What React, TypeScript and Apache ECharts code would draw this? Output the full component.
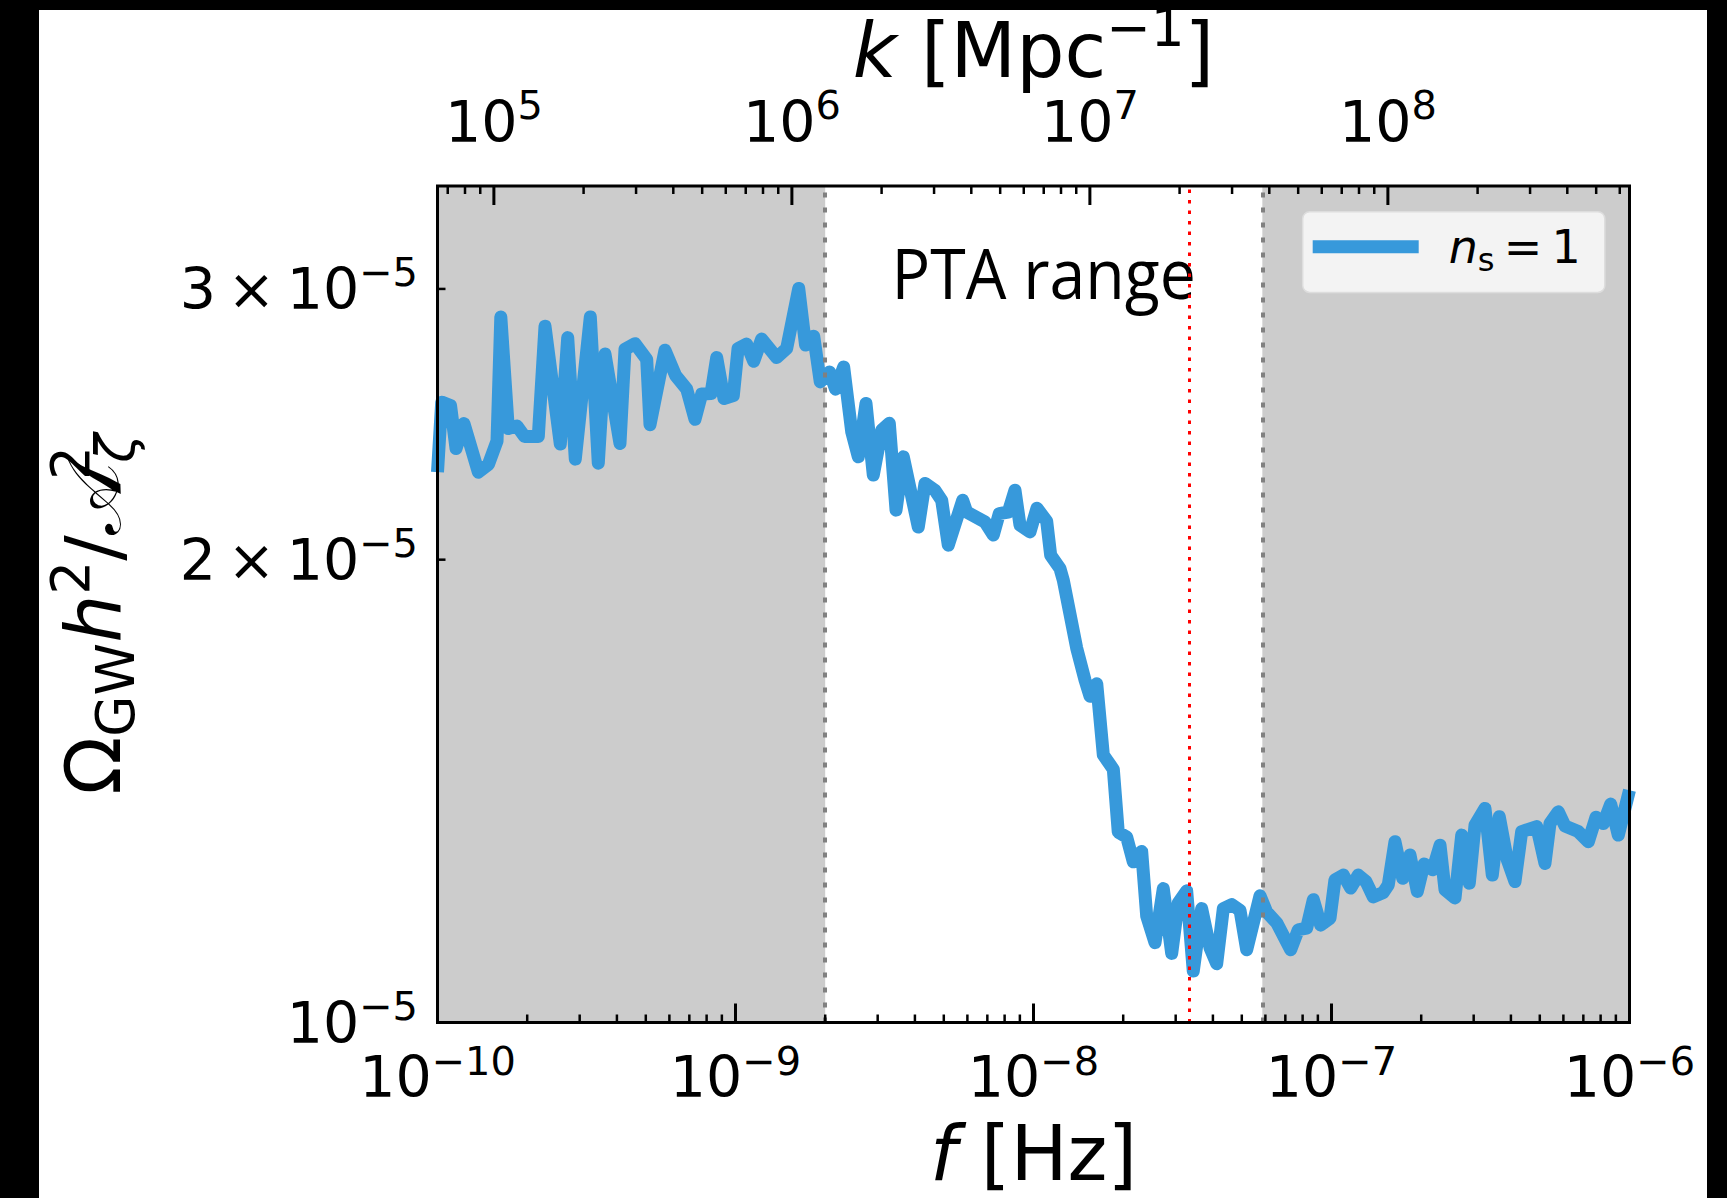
import React, { useEffect, useRef } from "react";
import * as echarts from "echarts";

const W = 1727;
const H = 1198;

// Frequency of each sample of the spectrum [Hz]
const freqHz = [
  1.0e-10, 1.033e-10, 1.106e-10, 1.154e-10, 1.227e-10, 1.371e-10, 1.483e-10, 1.584e-10, 1.631e-10, 1.728e-10,
  1.848e-10, 1.959e-10, 2.179e-10, 2.295e-10, 2.583e-10, 2.735e-10, 2.9e-10, 3.257e-10, 3.464e-10, 3.648e-10,
  4.096e-10, 4.258e-10, 4.6e-10, 5.035e-10, 5.165e-10, 5.799e-10, 6.291e-10, 6.859e-10, 7.313e-10, 7.701e-10,
  8.277e-10, 8.649e-10, 9.149e-10, 9.832e-10, 1.02e-9, 1.09e-9, 1.151e-9, 1.224e-9, 1.375e-9, 1.485e-9,
  1.63e-9, 1.718e-9, 1.83e-9, 1.925e-9, 2.068e-9, 2.166e-9, 2.307e-9, 2.455e-9, 2.583e-9, 2.741e-9,
  2.9e-9, 3.095e-9, 3.282e-9, 3.457e-9, 3.657e-9, 4.106e-9, 4.324e-9, 4.671e-9, 4.919e-9, 5.176e-9,
  5.787e-9, 5.969e-9, 6.875e-9, 7.33e-9, 7.677e-9, 8.23e-9, 8.667e-9, 9.009e-9, 9.733e-9, 1.027e-8,
  1.107e-8, 1.142e-8, 1.227e-8, 1.259e-8, 1.396e-8, 1.489e-8, 1.548e-8, 1.63e-8, 1.715e-8, 1.853e-8,
  1.925e-8, 2.055e-8, 2.162e-8, 2.307e-8, 2.398e-8, 2.557e-8, 2.726e-8, 2.909e-8, 3.061e-8, 3.266e-8,
  3.437e-8, 3.667e-8, 3.912e-8, 4.119e-8, 4.335e-8, 4.626e-8, 4.932e-8, 5.194e-8, 5.755e-8, 6.06e-8,
  6.548e-8, 7.296e-8, 7.737e-8, 8.255e-8, 8.688e-8, 9.199e-8, 9.885e-8, 1.027e-7, 1.096e-7, 1.16e-7,
  1.23e-7, 1.305e-7, 1.381e-7, 1.492e-7, 1.551e-7, 1.633e-7, 1.734e-7, 1.834e-7, 1.941e-7, 2.044e-7,
  2.186e-7, 2.313e-7, 2.404e-7, 2.597e-7, 2.735e-7, 2.9e-7, 3.031e-7, 3.274e-7, 3.464e-7, 3.656e-7,
  3.89e-7, 4.128e-7, 4.347e-7, 4.882e-7, 5.204e-7, 5.409e-7, 5.768e-7, 6.075e-7, 6.731e-7, 7.274e-7,
  7.719e-7, 8.167e-7, 8.648e-7, 9.171e-7, 1.0e-6,
];

// Omega_GW h^2 / A_zeta^2 at each frequency, in units of 1e-5
const omegaE5 = [
  2.28, 2.532, 2.519, 2.362, 2.452, 2.28, 2.307, 2.389, 2.877, 2.434,
  2.443, 2.405, 2.405, 2.837, 2.378, 2.789, 2.325, 2.877, 2.311, 2.721,
  2.38, 2.741, 2.764, 2.7, 2.448, 2.737, 2.636, 2.582, 2.468, 2.563,
  2.565, 2.707, 2.546, 2.557, 2.744, 2.762, 2.692, 2.783, 2.707, 2.744,
  3.002, 2.758, 2.795, 2.61, 2.649, 2.582, 2.669, 2.422, 2.333, 2.527,
  2.27, 2.428, 2.453, 2.154, 2.333, 2.1, 2.242, 2.219, 2.186, 2.044,
  2.186, 2.148, 2.116, 2.075, 2.143, 2.148, 2.219, 2.106, 2.085, 2.16,
  2.119, 2.013, 1.974, 1.939, 1.752, 1.67, 1.63, 1.661, 1.493, 1.461,
  1.33, 1.32, 1.272, 1.292, 1.173, 1.127, 1.222, 1.109, 1.196, 1.218,
  1.08, 1.186, 1.118, 1.092, 1.186, 1.193, 1.183, 1.115, 1.209, 1.18,
  1.161, 1.115, 1.149, 1.152, 1.202, 1.157, 1.169, 1.238, 1.247, 1.223,
  1.247, 1.235, 1.207, 1.215, 1.229, 1.311, 1.241, 1.285, 1.217, 1.268,
  1.257, 1.304, 1.22, 1.205, 1.324, 1.232, 1.344, 1.378, 1.247, 1.361,
  1.276, 1.235, 1.331, 1.341, 1.269, 1.347, 1.371, 1.342, 1.331, 1.311,
  1.36, 1.347, 1.387, 1.324, 1.416,
];
const OMEGA_UNIT = 1e-5;

const F_MIN = 1e-10;
const F_MAX = 1e-6;
const Y_MIN = 1e-5;
const Y_MAX = 3.5e-5;
// f = c k / (2 pi) with k in Mpc^-1
const HZ_PER_INV_MPC = 1.546e-15;
// Shaded regions lie outside the pulsar-timing band
const PTA_BAND_HZ = [2e-9, 5.86e-8];
const MARKER_HZ = 3.33e-8;
const X_DECADES = [-10, -9, -8, -7];
const K_DECADES = [4, 5, 6, 7, 8];
const Y_MINOR_VALUES = [2e-5, 3e-5];
const Y_MINOR_MANTISSAS = ["2", "3"];
const SERIES_LABEL = "n_s = 1";

const LINE_BLUE = "#3799db";
const SHADE = "#cccccc";
const MATH_FONT = "'DejaVu Sans', sans-serif";
const TEXT_FONT = "'Open Sans', 'Noto Sans', sans-serif";

// Rich-text styles imitating mathtext: base line box is taller than the
// script boxes so 'top' / 'bottom' tokens land at sup / sub offsets.
function mathRich(F: number, colorKey: "color" | "fill") {
  const base: any = { fontSize: F, fontFamily: MATH_FONT, lineHeight: 1.292 * F, verticalAlign: "middle" };
  base[colorKey] = "#000";
  const s = 0.7 * F;
  const sup: any = { fontSize: s, fontFamily: MATH_FONT, lineHeight: s, verticalAlign: "top" };
  sup[colorKey] = "#000";
  const sub: any = { fontSize: s, fontFamily: MATH_FONT, lineHeight: 0.794 * F, verticalAlign: "bottom" };
  sub[colorKey] = "#000";
  return {
    r: base,
    i: { ...base, fontStyle: "italic" },
    t: { ...base, padding: [0, 0.2 * F, 0, 0.2 * F] },
    sup,
    sup0: { ...sup, width: 0.5 },
    sub,
    subi: { ...sub, fontStyle: "italic" },
    cal: { ...base, fontFamily: "'DejaVu Serif', 'DejaVu Sans', serif" },
  };
}

function powLabel(v: number) {
  const e = Math.round(Math.log10(v));
  return `{r|10}{sup|${e < 0 ? "\u2212" : ""}${Math.abs(e)}}`;
}

// Tick marks: [x value, y value, side (0 bottom, 1 top, 2 left, 3 frame), major]
function buildTicks() {
  const out: number[][] = [];
  for (const e of X_DECADES) {
    for (let m = 1; m <= 9; m++) out.push([m * Math.pow(10, e), Y_MIN, 0, m === 1 ? 1 : 0]);
  }
  out.push([F_MAX, Y_MIN, 0, 1]);
  for (const e of K_DECADES) {
    for (let m = 1; m <= 9; m++) {
      const f = m * Math.pow(10, e) * HZ_PER_INV_MPC;
      if (f > F_MIN && f < F_MAX) out.push([f, Y_MAX, 1, m === 1 ? 1 : 0]);
    }
  }
  for (const v of Y_MINOR_VALUES) out.push([F_MIN, v, 2, 0]);
  out.push([F_MIN, Y_MIN, 3, 0]);
  return out;
}

function verticalMark(x: number, color: string, width: number, dash: number[]) {
  return [
    { coord: [x, Y_MIN], lineStyle: { color, width, type: dash } },
    { coord: [x, Y_MAX] },
  ];
}

export default function App() {
  const ref = useRef<HTMLDivElement>(null);

  useEffect(() => {
    if (!ref.current) return;
    const chart = echarts.init(ref.current, undefined, { renderer: "svg" });

    const tickRich = mathRich(57, "color");
    const nameRich = mathRich(76, "color");
    const legendRich = mathRich(46, "color");
    const points = freqHz.map((f, i) => [f, omegaE5[i] * OMEGA_UNIT]);

    const option: any = {
      animation: false,
      backgroundColor: "transparent",
      grid: {
        left: 437.5,
        top: 186,
        width: 1192,
        height: 836.5,
        containLabel: false,
        outerBoundsMode: "none",
      },
      legend: {
        data: [SERIES_LABEL],
        left: 1302.7,
        top: 211.7,
        orient: "horizontal",
        padding: [12, 24, 16, 10],
        itemWidth: 106,
        itemHeight: 13,
        icon: "rect",
        selectedMode: false,
        backgroundColor: "#f3f3f3",
        borderColor: "#dddddd",
        borderWidth: 1.5,
        borderRadius: 7,
        formatter: () => "{i|n}{sub|s}{t|=}{r|1}",
        textStyle: {
          rich: {
            ...legendRich,
            i: { ...legendRich.i, padding: [0, 0, 0, 25] },
          },
        },
      },
      xAxis: [
        {
          type: "log",
          logBase: 10,
          min: F_MIN,
          max: F_MAX,
          position: "bottom",
          axisLine: { show: false },
          axisTick: { show: false },
          splitLine: { show: false },
          axisLabel: {
            margin: 18,
            showMinLabel: true,
            showMaxLabel: true,
            formatter: (v: number) => powLabel(v),
            rich: tickRich,
          },
          name: "{i|f}{r| [Hz]}",
          nameLocation: "middle",
          nameGap: 82,
          nameMoveOverlap: false,
          nameTextStyle: { rich: nameRich },
        },
        {
          type: "log",
          logBase: 10,
          min: F_MIN / HZ_PER_INV_MPC,
          max: F_MAX / HZ_PER_INV_MPC,
          position: "top",
          axisLine: { show: false },
          axisTick: { show: false },
          splitLine: { show: false },
          axisLabel: {
            margin: 27,
            showMinLabel: false,
            showMaxLabel: false,
            formatter: (v: number) => powLabel(v),
            rich: tickRich,
          },
          name: "{i|k}{r| [Mpc}{sup|\u22121}{r|]}",
          nameLocation: "middle",
          nameGap: 86,
          nameMoveOverlap: false,
          nameTextStyle: { rich: nameRich },
        },
      ],
      yAxis: {
        type: "log",
        logBase: 10,
        min: Y_MIN,
        max: Y_MAX,
        axisLine: { show: false },
        axisTick: { show: false },
        splitLine: { show: false },
        axisLabel: {
          margin: 19.5,
          showMinLabel: true,
          showMaxLabel: false,
          formatter: (v: number) => (Math.abs(Math.log10(v / Y_MIN)) < 1e-6 ? powLabel(v) : ""),
          rich: tickRich,
        },
        name: "{r|\u03A9}{sub|GW}{i|h}{sup|2}{r|/}{cal|\uD835\uDC9C}{sup0|2}{subi|\u03B6}",
        nameLocation: "middle",
        nameRotate: 90,
        nameGap: 295,
        nameMoveOverlap: false,
        nameTextStyle: { rich: nameRich, padding: [0, 20, 0, 0] },
      },
      series: [
        {
          name: "bands",
          type: "line",
          data: points,
          z: 1,
          silent: true,
          showSymbol: false,
          symbol: "none",
          lineStyle: { opacity: 0, width: 0 },
          markArea: {
            silent: true,
            itemStyle: { color: SHADE },
            label: { show: false },
            data: [
              [{ xAxis: F_MIN }, { xAxis: PTA_BAND_HZ[0] }],
              [{ xAxis: PTA_BAND_HZ[1] }, { xAxis: F_MAX }],
            ],
          },
          markLine: {
            silent: true,
            symbol: ["none", "none"],
            label: { show: false },
            data: [
              verticalMark(PTA_BAND_HZ[0], "#808080", 4, [5, 10]),
              verticalMark(PTA_BAND_HZ[1], "#808080", 4, [5, 10]),
              verticalMark(MARKER_HZ, "#ff0000", 3, [3.5, 7]),
            ],
          },
        },
        {
          name: SERIES_LABEL,
          type: "line",
          data: points,
          showSymbol: false,
          symbol: "none",
          clip: true,
          z: 3,
          itemStyle: { color: LINE_BLUE },
          lineStyle: { color: LINE_BLUE, width: 13, join: "round", cap: "butt" },
        },
        {
          name: "frame",
          type: "custom",
          silent: true,
          z: 6,
          encode: { x: 0, y: 1 },
          data: buildTicks(),
          renderItem: (_params: any, api: any) => {
            const side = api.value(2);
            const major = api.value(3);
            const p0 = api.coord([F_MIN, Y_MIN]);
            const p1 = api.coord([F_MAX, Y_MAX]);
            if (side === 3) {
              return {
                type: "rect",
                shape: { x: p0[0], y: p1[1], width: p1[0] - p0[0], height: p0[1] - p1[1] },
                style: { fill: "none", stroke: "#000", lineWidth: 3 },
              };
            }
            const p = api.coord([api.value(0), api.value(1)]);
            const len = major ? 19 : 8;
            const lw = major ? 3 : 2.5;
            let shape;
            if (side === 0) shape = { x1: p[0], y1: p0[1], x2: p[0], y2: p0[1] - len };
            else if (side === 1) shape = { x1: p[0], y1: p1[1], x2: p[0], y2: p1[1] + len };
            else shape = { x1: p0[0], y1: p[1], x2: p0[0] + len, y2: p[1] };
            return { type: "line", shape, style: { stroke: "#000", lineWidth: lw } };
          },
        },
      ],
    };

    chart.setOption(option);

    // Labels of the minor y ticks and the band annotation, placed through the axes
    const zRich = mathRich(57, "fill");
    const xLeft = chart.convertToPixel({ xAxisIndex: 0 }, F_MIN) as number;
    const yLabels = Y_MINOR_VALUES.map((v, i) => ({
      type: "text",
      silent: true,
      x: xLeft - 19.5,
      y: chart.convertToPixel({ yAxisIndex: 0 }, v) as number,
      style: {
        text: `{r|${Y_MINOR_MANTISSAS[i]}}{t|\u00D7}{r|10}{sup|\u22125}`,
        rich: zRich,
        align: "right",
        verticalAlign: "middle",
      },
    }));
    const bandMid = Math.sqrt(PTA_BAND_HZ[0] * PTA_BAND_HZ[1]);
    const ptaText = {
      type: "text",
      silent: true,
      x: chart.convertToPixel({ xAxisIndex: 0 }, bandMid) as number,
      y: 272,
      scaleX: 0.92,
      style: {
        text: "PTA range",
        fontFamily: TEXT_FONT,
        fontSize: 70,
        fill: "#000",
        align: "center",
        verticalAlign: "middle",
      },
    };
    chart.setOption({ graphic: [...yLabels, ptaText] });

    return () => chart.dispose();
  }, []);

  return (
    <div style={{ position: "fixed", left: 0, top: 0, width: W, height: H, background: "#000" }}>
      <div style={{ position: "absolute", left: 39, top: 10, width: 1668, height: 1188, background: "#fff" }} />
      <div ref={ref} style={{ position: "absolute", left: 0, top: 0, width: W, height: H }} />
    </div>
  );
}
